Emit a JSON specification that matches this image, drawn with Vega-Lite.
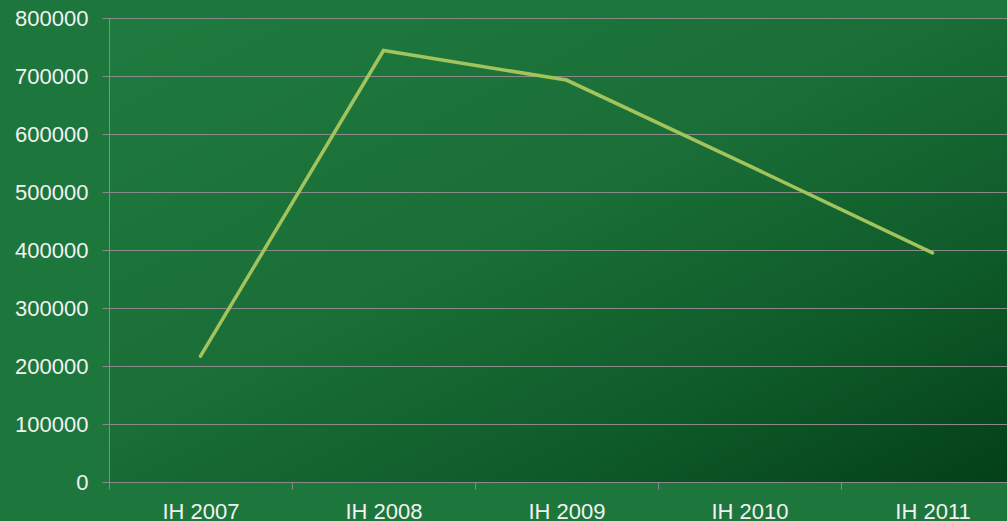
{
  "$schema": "https://vega.github.io/schema/vega-lite/v6.json",
  "width": 915,
  "height": 464,
  "autosize": {"type": "none"},
  "padding": {"left": 109, "top": 18, "right": 0, "bottom": 39},
  "background": "#1d763b",
  "data": {
    "values": [
      {"period": "IH 2007", "value": 217000},
      {"period": "IH 2008", "value": 744000},
      {"period": "IH 2009", "value": 693000},
      {"period": "IH 2010", "value": 545000},
      {"period": "IH 2011", "value": 395000}
    ]
  },
  "mark": {"type": "line", "color": "#a3c35c", "strokeWidth": 3.5, "strokeCap": "round", "strokeJoin": "miter"},
  "encoding": {
    "x": {
      "field": "period",
      "type": "nominal",
      "sort": null,
      "scale": {"paddingInner": 0, "paddingOuter": 0},
      "axis": {
        "title": null,
        "labelAngle": 0,
        "tickBand": "extent",
        "tickSize": 7,
        "labelPadding": 12,
        "grid": false
      }
    },
    "y": {
      "field": "value",
      "type": "quantitative",
      "scale": {"domain": [0, 800000], "nice": false},
      "axis": {
        "title": null,
        "values": [0, 100000, 200000, 300000, 400000, 500000, 600000, 700000, 800000],
        "format": "d",
        "tickSize": 7,
        "labelPadding": 14,
        "grid": true
      }
    }
  },
  "config": {
    "view": {
      "stroke": null,
      "fill": {
        "gradient": "linear",
        "x1": 0, "y1": 0, "x2": 1, "y2": 1,
        "stops": [
          {"offset": 0, "color": "#1f7b3f"},
          {"offset": 0.45, "color": "#1a6e37"},
          {"offset": 0.72, "color": "#0f5c2a"},
          {"offset": 1, "color": "#033f17"}
        ]
      }
    },
    "axis": {
      "labelFont": "Liberation Sans",
      "labelFontSize": 22,
      "labelColor": "#f2f2f2",
      "domainColor": "#8a8a8a",
      "tickColor": "#8a8a8a",
      "gridColor": "#8a8a8a",
      "gridOpacity": 1,
      "domainWidth": 1,
      "tickWidth": 1,
      "gridWidth": 1
    }
  }
}
